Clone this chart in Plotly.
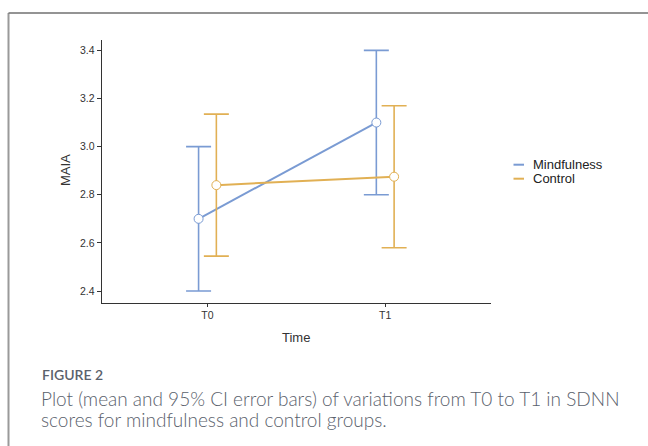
import plotly.graph_objects as go

# ---- data ----
time_labels = ["T0", "T1"]
groups = ["Mindfulness", "Control"]
colors = ["#7A9BD3", "#E1B054"]
mindfulness_mean = [2.70, 3.10]
mindfulness_lower = [2.40, 2.80]
mindfulness_upper = [3.00, 3.40]
control_mean = [2.84, 2.875]
control_lower = [2.545, 2.58]
control_upper = [3.135, 3.17]

means = [mindfulness_mean, control_mean]
lowers = [mindfulness_lower, control_lower]
uppers = [mindfulness_upper, control_upper]
dodge = [-0.05, 0.05]

W, H = 648, 446
fig = go.Figure()

for g, name in enumerate(groups):
    xs = [i + 1 + dodge[g] for i in range(len(time_labels))]
    fig.add_trace(go.Scatter(
        x=xs, y=means[g], name=name, mode="lines+markers",
        line=dict(color=colors[g], width=2),
        marker=dict(size=9, color="white", line=dict(color=colors[g], width=1)),
        error_y=dict(type="data", symmetric=False,
                     array=[u - m for u, m in zip(uppers[g], means[g])],
                     arrayminus=[m - l for m, l in zip(means[g], lowers[g])],
                     color=colors[g], thickness=1.6, width=12.5),
        showlegend=False,
    ))

# axis placement in pixels
x0px, x1px = 101.7, 491
ytop_px, ybot_px = 40, 302.7

fig.update_layout(
    width=W, height=H,
    margin=dict(l=0, r=0, t=0, b=0),
    paper_bgcolor="white", plot_bgcolor="white",
    font=dict(family="Liberation Sans, Arial, sans-serif", color="#333333"),
    xaxis=dict(domain=[x0px / W, x1px / W], range=[0.405, 2.595],
               tickvals=[1, 2], ticktext=time_labels,
               showline=True, linecolor="#333333", linewidth=1,
               ticks="outside", ticklen=3, tickcolor="#333333",
               showgrid=False, zeroline=False,
               tickfont=dict(size=10.5, color="#333333")),
    yaxis=dict(domain=[1 - ybot_px / H, 1 - ytop_px / H], range=[2.3515, 3.443],
               tickvals=[2.4, 2.6, 2.8, 3.0, 3.2, 3.4],
               ticktext=["2.4", "2.6", "2.8", "3.0", "3.2", "3.4"],
               showline=True, linecolor="#333333", linewidth=1,
               ticks="outside", ticklen=4, tickcolor="#333333",
               showgrid=False, zeroline=False,
               tickfont=dict(size=10.5, color="#333333")),
)

# axis titles
fig.add_annotation(x=65 / W, y=1 - 170 / H, xref="paper", yref="paper",
                   xanchor="center", yanchor="middle",
                   text="MAIA", textangle=-90, showarrow=False,
                   font=dict(size=13, color="#333333"))
fig.add_annotation(x=296 / W, y=1 - 337 / H, xref="paper", yref="paper",
                   xanchor="center", yanchor="middle",
                   text="Time", showarrow=False,
                   font=dict(size=13, color="#333333"))

# manual legend
leg_y = [164.7, 178.7]
for g, name in enumerate(groups):
    fig.add_shape(type="line", xref="paper", yref="paper",
                  x0=513.5 / W, x1=524 / W, y0=1 - leg_y[g] / H, y1=1 - leg_y[g] / H,
                  line=dict(color=colors[g], width=2))
    fig.add_annotation(x=531 / W, y=1 - leg_y[g] / H, xref="paper", yref="paper",
                       text=name, showarrow=False, xanchor="left", yanchor="middle",
                       font=dict(size=13, color="#222222"))

# figure frame (left and top border)
fig.add_shape(type="line", xref="paper", yref="paper",
              x0=8.5 / W, x1=8.5 / W, y0=0, y1=1 - 13 / H,
              line=dict(color="#9a9a9a", width=2))
fig.add_shape(type="line", xref="paper", yref="paper",
              x0=8.5 / W, x1=1, y0=1 - 13 / H, y1=1 - 13 / H,
              line=dict(color="#707070", width=1.5))

# caption
cap_font = "Lato, Open Sans, sans-serif"
cap_color = "#5a616c"
fig.add_annotation(x=40 / W, y=1 - 374 / H, xref="paper", yref="paper",
                   text="FIGURE 2", showarrow=False, xanchor="left", yanchor="middle",
                   font=dict(size=14, color=cap_color, family=cap_font, weight=600))
fig.add_annotation(x=39 / W, y=1 - 398 / H, xref="paper", yref="paper",
                   text="Plot (mean and 95% CI error bars) of variations from T0 to T1 in SDNN",
                   showarrow=False, xanchor="left", yanchor="middle",
                   font=dict(size=19, color=cap_color, family=cap_font, weight=300))
fig.add_annotation(x=39 / W, y=1 - 419 / H, xref="paper", yref="paper",
                   text="scores for mindfulness and control groups.",
                   showarrow=False, xanchor="left", yanchor="middle",
                   font=dict(size=19, color=cap_color, family=cap_font, weight=300))

fig.write_html("out.html", config={"displayModeBar": False},
               post_script="document.body.style.margin='0';document.body.style.overflow='hidden';")
